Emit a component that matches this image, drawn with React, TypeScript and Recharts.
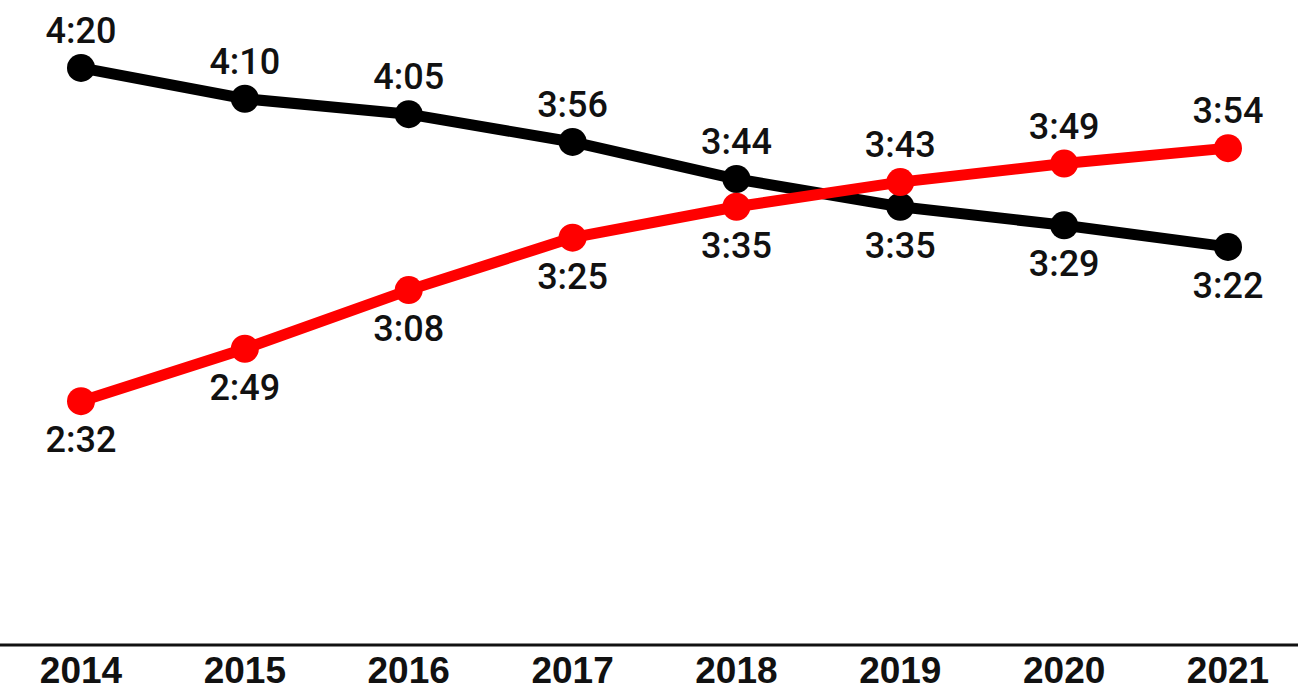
import React from "react";
import { LineChart, Line, XAxis, YAxis, LabelList } from "recharts";

const years = ["2014", "2015", "2016", "2017", "2018", "2019", "2020", "2021"];
const blackTimes = ["4:20", "4:10", "4:05", "3:56", "3:44", "3:35", "3:29", "3:22"];
const redTimes = ["2:32", "2:49", "3:08", "3:25", "3:35", "3:43", "3:49", "3:54"];

const toSec = (t: string) => {
  const [m, s] = t.split(":").map(Number);
  return m * 60 + s;
};

const data = years.map((y, i) => ({
  year: y,
  black: toSec(blackTimes[i]),
  red: toSec(redTimes[i]),
  blackLabel: blackTimes[i],
  redLabel: redTimes[i],
}));

const labelStyle = {
  fontFamily: "Roboto, 'Noto Sans', sans-serif",
  fontWeight: 500,
  fontSize: 36,
  fill: "#111",
};

// black labels above for the first five points, below after the crossing; red the opposite
const makeLabel = (aboveFirst: boolean) => (props: any) => {
  const { x, y, value, index } = props;
  const above = index <= 4 ? aboveFirst : !aboveFirst;
  return (
    <text
      x={x}
      y={above ? y - 25 : y + 51}
      textAnchor="middle"
      style={labelStyle}
    >
      {value}
    </text>
  );
};

const YearTick = (props: any) => {
  const { x, y, payload } = props;
  return (
    <text
      x={x}
      y={y + 38}
      textAnchor="middle"
      style={{
        fontFamily: "'Liberation Sans', Arial, sans-serif",
        fontWeight: 700,
        fontSize: 37,
        fill: "#111",
      }}
    >
      {payload.value}
    </text>
  );
};

export default function App() {
  return (
    <div style={{ position: "absolute", left: 0, top: 0, background: "#fff" }}>
      <LineChart
        width={1298}
        height={692}
        data={data}
        margin={{ top: 0, right: 0, left: 0, bottom: 0 }}
      >
        <XAxis
          dataKey="year"
          height={47}
          padding={{ left: 81, right: 70 }}
          axisLine={{ stroke: "#111", strokeWidth: 3 }}
          tickLine={false}
          tickSize={0}
          tickMargin={0}
          tick={<YearTick />}
          interval={0}
        />
        <YAxis hide width={0} domain={[73, 282]} type="number" />
        <Line
          dataKey="black"
          stroke="#000"
          strokeWidth={11}
          dot={{ r: 14, fill: "#000", stroke: "#000", strokeWidth: 0 }}
          activeDot={false}
          isAnimationActive={false}
        >
          <LabelList dataKey="blackLabel" content={makeLabel(true)} />
        </Line>
        <Line
          dataKey="red"
          stroke="#ff0000"
          strokeWidth={11}
          dot={{ r: 14, fill: "#ff0000", stroke: "#ff0000", strokeWidth: 0 }}
          activeDot={false}
          isAnimationActive={false}
        >
          <LabelList dataKey="redLabel" content={makeLabel(false)} />
        </Line>
      </LineChart>
    </div>
  );
}
